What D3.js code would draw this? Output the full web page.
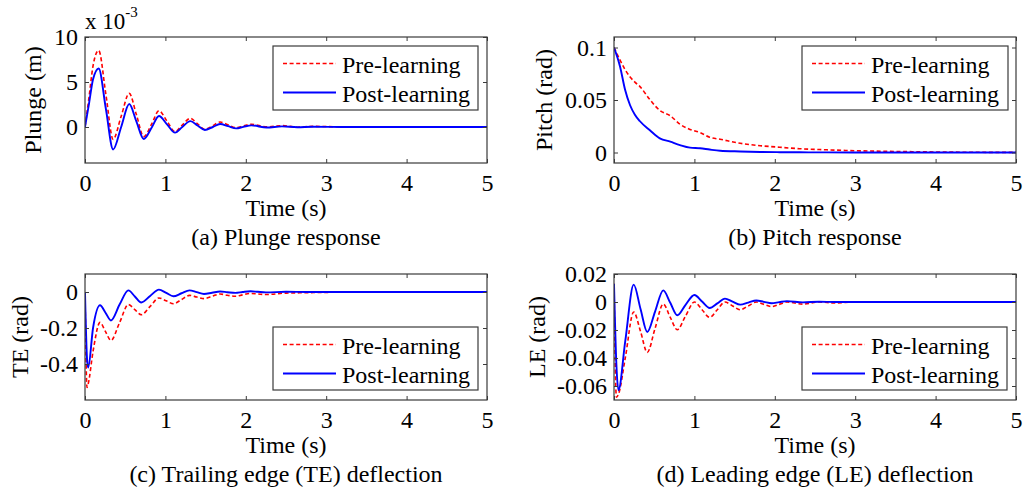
<!DOCTYPE html>
<html>
<head>
<meta charset="utf-8">
<script src="https://cdn.jsdelivr.net/npm/d3@7"></script>
<style>
  html, body { margin: 0; padding: 0; background: #fff; }
  svg { display: block; }
  text { font-family: "Liberation Serif", "Times New Roman", serif; fill: #000; }
</style>
</head>
<body>
<svg id="chart" width="1025" height="492"></svg>
<script>
// ---------- Data ----------
const seriesNames = ["Pre-learning", "Post-learning"];
const xTicks = [0, 1, 2, 3, 4, 5];
const xTickLabels = ["0", "1", "2", "3", "4", "5"];

// (a) Plunge response, values in units of 1e-3 m
const timeA = [0, 0.05, 0.10, 0.17, 0.26, 0.35, 0.45, 0.55, 0.64, 0.73, 0.83, 0.92, 1.02, 1.12, 1.21, 1.31, 1.40, 1.49, 1.59, 1.68, 1.78, 1.88, 1.97, 2.07, 2.26, 2.45, 2.64, 2.83, 3.2, 3.6, 4.0, 4.5, 5.0];
const plungePre  = [0, 3.3, 6.8, 8.5, 3.6, -1.37, 1.2, 3.74, 1.35, -1.07, 0.35, 1.8, 0.65, -0.52, 0.22, 0.96, 0.35, -0.26, 0.15, 0.55, 0.24, -0.08, 0.11, 0.3, 0.02, 0.15, -0.02, 0.07, 0.02, 0.01, 0, 0, 0];
const plungePost = [0, 2.6, 5.3, 6.5, 2.0, -2.5, 0.0, 2.55, 0.6, -1.33, -0.05, 1.22, 0.3, -0.63, 0.0, 0.65, 0.16, -0.33, 0.0, 0.33, 0.09, -0.15, 0.02, 0.18, -0.06, 0.07, -0.03, 0.03, 0, 0, 0, 0, 0];
const yTicksA = [0, 5, 10];
const yTickLabelsA = ["0", "5", "10"];

// (b) Pitch response (rad)
const timeB = [0, 0.075, 0.137, 0.2, 0.26, 0.32, 0.45, 0.57, 0.70, 0.82, 0.945, 1.07, 1.19, 1.32, 1.57, 1.82, 2.06, 2.31, 2.6, 3.0, 3.5, 4.0, 4.5, 5.0];
const pitchPre  = [0.1, 0.088, 0.079, 0.072, 0.067, 0.063, 0.050, 0.040, 0.035, 0.027, 0.022, 0.019, 0.0145, 0.0126, 0.0088, 0.0065, 0.005, 0.0036, 0.0027, 0.0017, 0.001, 0.0005, 0.0002, 0.0001];
const pitchPost = [0.1, 0.082, 0.060, 0.045, 0.036, 0.030, 0.021, 0.0135, 0.0103, 0.0071, 0.0046, 0.004, 0.0028, 0.0017, 0.001, 0.0005, 0.0003, 0.0002, 0.0001, 0, 0, 0, 0, 0];
const yTicksB = [0, 0.05, 0.1];
const yTickLabelsB = ["0", "0.05", "0.1"];

// (c) Trailing edge deflection (rad)
const timeC = [0, 0.025, 0.04, 0.10, 0.187, 0.255, 0.323, 0.43, 0.54, 0.62, 0.70, 0.81, 0.92, 1.01, 1.10, 1.20, 1.30, 1.39, 1.48, 1.58, 1.68, 1.77, 1.87, 1.96, 2.06, 2.15, 2.25, 2.5, 2.75, 3.0, 3.5, 4.0, 5.0];
const tePre  = [0, -0.53, -0.51, -0.33, -0.169, -0.22, -0.269, -0.17, -0.07, -0.098, -0.126, -0.08, -0.033, -0.049, -0.065, -0.042, -0.019, -0.028, -0.037, -0.024, -0.011, -0.018, -0.024, -0.016, -0.008, -0.011, -0.014, -0.006, -0.004, -0.002, -0.001, 0, 0];
const tePost = [0, -0.37, -0.42, -0.20, -0.074, -0.115, -0.158, -0.07, 0.009, -0.025, -0.058, -0.022, 0.013, -0.005, -0.024, -0.007, 0.009, -0.001, -0.011, -0.004, 0.003, -0.001, -0.005, 0, 0.004, 0.001, -0.002, 0.001, 0, 0, 0, 0, 0];
const yTicksC = [-0.4, -0.2, 0];
const yTickLabelsC = ["-0.4", "-0.2", "0"];

// (d) Leading edge deflection (rad)
const timeD = [0, 0.03, 0.055, 0.14, 0.245, 0.33, 0.414, 0.51, 0.613, 0.70, 0.787, 0.89, 1.0, 1.095, 1.19, 1.285, 1.38, 1.475, 1.57, 1.67, 1.77, 1.865, 1.96, 2.055, 2.15, 2.35, 2.55, 2.75, 3.0, 3.5, 4.0, 5.0];
const lePre  = [0.013, -0.068, -0.066, -0.040, -0.0071, -0.021, -0.036, -0.019, -0.0014, -0.011, -0.0198, -0.010, 0, -0.0055, -0.011, -0.0055, 0, -0.0028, -0.0055, -0.0028, 0, -0.0017, -0.0033, -0.0017, 0, -0.0015, 0, -0.0007, 0, 0, 0, 0];
const lePost = [0.013, -0.045, -0.063, -0.028, 0.0124, -0.005, -0.0214, -0.007, 0.0083, -0.0006, -0.0095, -0.002, 0.005, 0.0003, -0.0043, -0.001, 0.0024, 0.0002, -0.0019, -0.0004, 0.0011, 0.0001, -0.0009, -0.0001, 0.0006, -0.0003, 0.0002, 0, 0, 0, 0, 0];
const yTicksD = [-0.06, -0.04, -0.02, 0, 0.02];
const yTickLabelsD = ["-0.06", "-0.04", "-0.02", "0", "0.02"];

// ---------- Panels ----------
const panels = [
  { t: timeA, pre: plungePre, post: plungePost, yDomain: [-4, 10], yTicks: yTicksA, yLabels: yTickLabelsA,
    ylabel: "Plunge (m)", caption: "(a) Plunge response",
    box: { l: 85, r: 487, t: 37, b: 163 }, ylabX: 41, legend: { x: 273, y: 46, w: 205, h: 64 }, exp: true },
  { t: timeB, pre: pitchPre, post: pitchPost, yDomain: [-0.01, 0.11], yTicks: yTicksB, yLabels: yTickLabelsB,
    ylabel: "Pitch (rad)", caption: "(b) Pitch response",
    box: { l: 614, r: 1016, t: 37, b: 163 }, ylabX: 552, legend: { x: 802, y: 46, w: 206, h: 64 } },
  { t: timeC, pre: tePre, post: tePost, yDomain: [-0.6, 0.1], yTicks: yTicksC, yLabels: yTickLabelsC,
    ylabel: "TE (rad)", caption: "(c) Trailing edge (TE) deflection",
    box: { l: 85, r: 487, t: 274, b: 400 }, ylabX: 28, legend: { x: 273, y: 327, w: 205, h: 63 } },
  { t: timeD, pre: lePre, post: lePost, yDomain: [-0.07, 0.02], yTicks: yTicksD, yLabels: yTickLabelsD,
    ylabel: "LE (rad)", caption: "(d) Leading edge (LE) deflection",
    box: { l: 614, r: 1016, t: 274, b: 400 }, ylabX: 545, legend: { x: 802, y: 327, w: 205, h: 63 } }
];

const svg = d3.select("#chart");
svg.append("rect").attr("width", 1025).attr("height", 492).attr("fill", "#fff");

const AX = "#3a3a3a";
const RED = "#ff0000", BLUE = "#0000ff";
const FS = 24;

panels.forEach((p, i) => {
  const b = p.box;
  const x = d3.scaleLinear().domain([0, 5]).range([b.l, b.r]);
  const y = d3.scaleLinear().domain(p.yDomain).range([b.b, b.t]);
  const g = svg.append("g");

  const clipId = "clip" + i;
  svg.append("clipPath").attr("id", clipId)
    .append("rect").attr("x", b.l).attr("y", b.t).attr("width", b.r - b.l).attr("height", b.b - b.t);

  // lines
  const line = (vals) => d3.line()
    .x((d, k) => x(p.t[k]))
    .y(d => y(d))
    .curve(d3.curveMonotoneX)(vals);

  const lg = g.append("g").attr("clip-path", `url(#${clipId})`);
  lg.append("path").attr("d", line(p.pre)).attr("fill", "none")
    .attr("stroke", RED).attr("stroke-width", 1.6).attr("stroke-dasharray", "4,2.6");
  lg.append("path").attr("d", line(p.post)).attr("fill", "none")
    .attr("stroke", BLUE).attr("stroke-width", 1.9);

  // axes (inward ticks on all four sides)
  const tick = 4;
  const axB = g.append("g").attr("transform", `translate(0,${b.b})`)
    .call(d3.axisBottom(x).tickValues(xTicks).tickFormat((d, k) => xTickLabels[k])
      .tickSizeInner(-tick).tickSizeOuter(0).tickPadding(11));
  const axT = g.append("g").attr("transform", `translate(0,${b.t})`)
    .call(d3.axisTop(x).tickValues(xTicks).tickFormat("").tickSizeInner(-tick).tickSizeOuter(0));
  const axL = g.append("g").attr("transform", `translate(${b.l},0)`)
    .call(d3.axisLeft(y).tickValues(p.yTicks).tickFormat((d, k) => p.yLabels[k])
      .tickSizeInner(-tick).tickSizeOuter(0).tickPadding(7));
  const axR = g.append("g").attr("transform", `translate(${b.r},0)`)
    .call(d3.axisRight(y).tickValues(p.yTicks).tickFormat("").tickSizeInner(-tick).tickSizeOuter(0));
  [axB, axT, axL, axR].forEach(a => {
    a.select(".domain").remove();
    a.selectAll("line").attr("stroke", AX).attr("stroke-width", 1);
    a.selectAll("text").attr("font-size", FS)
      .style("font-family", '"Liberation Serif", "Times New Roman", serif').attr("fill", "#000");
  });
  g.append("rect").attr("x", b.l).attr("y", b.t).attr("width", b.r - b.l).attr("height", b.b - b.t)
    .attr("fill", "none").attr("stroke", AX).attr("stroke-width", 1.2);

  // axis titles
  const cx = (b.l + b.r) / 2;
  g.append("text").attr("x", cx).attr("y", b.b + 53).attr("text-anchor", "middle")
    .attr("font-size", FS).text("Time (s)");
  g.append("text").attr("x", cx).attr("y", b.b + 82).attr("text-anchor", "middle")
    .attr("font-size", FS).text(p.caption);
  g.append("text")
    .attr("transform", `translate(${p.ylabX},${(b.t + b.b) / 2}) rotate(-90)`)
    .attr("text-anchor", "middle").attr("font-size", FS).text(p.ylabel);

  if (p.exp) {
    const e = g.append("text").attr("x", b.l).attr("y", 29).attr("font-size", 23);
    e.append("tspan").text("x 10");
    e.append("tspan").attr("font-size", 15).attr("dy", -12).text("-3");
  }

  // legend
  const L = p.legend;
  const leg = g.append("g");
  leg.append("rect").attr("x", L.x).attr("y", L.y).attr("width", L.w).attr("height", L.h)
    .attr("fill", "#fff").attr("stroke", AX).attr("stroke-width", 1.2);
  const rows = [
    { name: seriesNames[0], color: RED, dash: "4,2.6", w: 1.6 },
    { name: seriesNames[1], color: BLUE, dash: null, w: 1.9 }
  ];
  rows.forEach((r, k) => {
    const ly = L.y + 17.5 + k * 29;
    leg.append("line").attr("x1", L.x + 10).attr("x2", L.x + 63).attr("y1", ly).attr("y2", ly)
      .attr("stroke", r.color).attr("stroke-width", r.w).attr("stroke-dasharray", r.dash);
    leg.append("text").attr("x", L.x + 69).attr("y", ly + 9.5).attr("font-size", FS).text(r.name);
  });
});
</script>
</body>
</html>
